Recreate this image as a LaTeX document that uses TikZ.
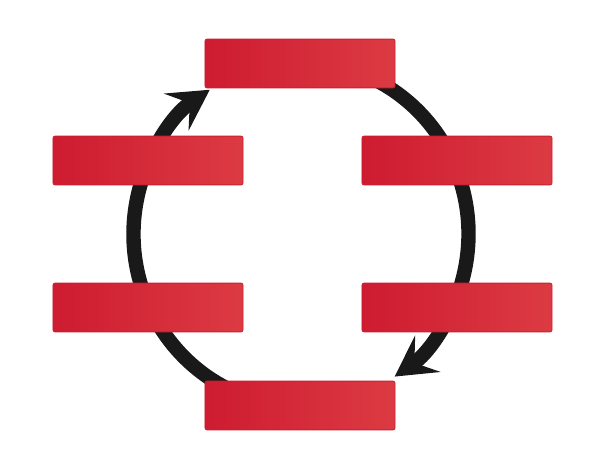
\documentclass[tikz,border=0pt]{standalone}
\usepackage{amsmath}
\usepackage{tikz}
\usetikzlibrary{arrows.meta}
\definecolor{boxleft}{HTML}{CE1B30}
\definecolor{boxmid}{HTML}{DE2F3B}
\definecolor{boxright}{HTML}{DC3B43}
\definecolor{boxline}{HTML}{C8202F}
\tikzset{
  redbox/.style={rectangle,rounded corners=1.5pt,draw=boxline,line width=0.6pt,
    left color=boxleft,middle color=boxmid,right color=boxright,
    minimum width=4.75cm,minimum height=1.22cm,inner sep=0pt},
  ringarc/.style={line width=0.36cm,black!90,
    -{Stealth[length=1.0cm,width=1.1cm,inset=0.4cm]}}
}
\begin{document}
\begin{tikzpicture}[x=0.025cm,y=0.025cm] % 1 unit = 1 px
				\useasboundingbox (0,0) rectangle (600,-460);
				\coordinate (ring) at (301,-234);
				% two arcs of the ring, both clockwise
				\draw[ringarc] ([shift={(-100:167.5 and 172)}]ring) arc[start angle=-100,end angle=-237,x radius=167.5,y radius=172];
				\draw[ringarc] ([shift={(80:167.5 and 172)}]ring) arc[start angle=80,end angle=-56,x radius=167.5,y radius=172];
				% boxes
				\node[redbox](top) at (300,-63.5) {};
				\node[redbox](upleft) at (148,-160.5) {};
				\node[redbox](upright) at (457,-160.5) {};
				\node[redbox](lowleft) at (148,-307.5) {};
				\node[redbox](lowright) at (457,-307.5) {};
				\node[redbox](bottom) at (300,-405.5) {};
			\end{tikzpicture}
\end{document}
